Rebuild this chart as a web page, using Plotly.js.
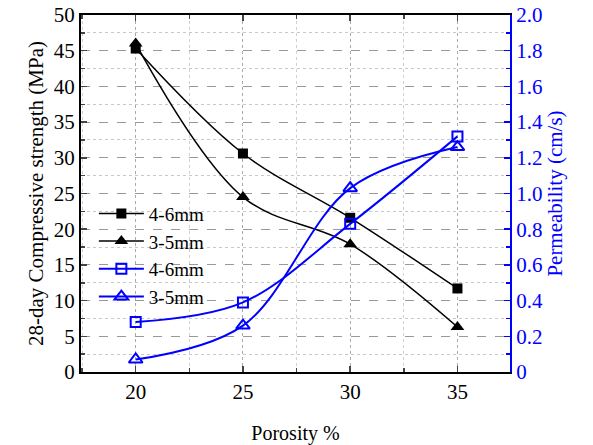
<!DOCTYPE html>
<html><head><meta charset="utf-8">
<script src="https://cdn.plot.ly/plotly-3.0.1.min.js"></script>
<style>body{margin:0;padding:0;}#chart{width:593px;height:445px;}</style>
</head><body><div id="chart"></div>
<script>
const porosity = [20, 25, 30, 35];
const strength46 = [45.3, 30.6, 21.6, 11.7];
const strength35 = [46.0, 24.5, 17.9, 6.3];
const perm46 = [0.28, 0.39, 0.83, 1.32];
const perm35 = [0.07, 0.26, 1.03, 1.26];
const seriesNames = ['4-6mm', '3-5mm', '4-6mm', '3-5mm'];
const permTickVals = [0, 0.2, 0.4, 0.6, 0.8, 1.0, 1.2, 1.4, 1.6, 1.8, 2.0];
const permTickText = ['0', '0.2', '0.4', '0.6', '0.8', '1.0', '1.2', '1.4', '1.6', '1.8', '2.0'];

const font = '"Liberation Serif", "Times New Roman", serif';
const traces = [
  {x: porosity, y: strength46, name: seriesNames[0], mode: 'lines+markers', line: {color: 'black', width: 1.5, shape: 'spline', smoothing: 1}, marker: {symbol: 'square', size: 10, color: 'black'}},
  {x: porosity, y: strength35, name: seriesNames[1], mode: 'lines+markers', line: {color: 'black', width: 1.5, shape: 'spline', smoothing: 1}, marker: {symbol: 'triangle-up', size: 12, color: 'black'}},
  {x: porosity, y: perm46, name: seriesNames[2], yaxis: 'y2', mode: 'lines+markers', line: {color: '#0000ff', width: 2, shape: 'spline', smoothing: 1}, marker: {symbol: 'square-open', size: 10, color: '#0000ff', line: {width: 2}}},
  {x: porosity, y: perm35, name: seriesNames[3], yaxis: 'y2', mode: 'lines+markers', line: {color: '#0000ff', width: 2, shape: 'spline', smoothing: 1}, marker: {symbol: 'triangle-up-open', size: 12, color: '#0000ff', line: {width: 2}}}
];

const layout = {
  width: 593, height: 445,
  margin: {l: 81, r: 83, t: 15, b: 73},
  paper_bgcolor: 'white', plot_bgcolor: 'white',
  font: {family: font, size: 21, color: 'black'},
  showlegend: true,
  legend: {x: 0.03, y: 0.497, xanchor: 'left', yanchor: 'top', bgcolor: 'rgba(0,0,0,0)', font: {family: font, size: 19}, tracegroupgap: 0, itemwidth: 45},
  xaxis: {
    range: [17.45, 37.45], tickvals: porosity, ticks: 'inside', ticklen: 6, tickwidth: 1.5,
    showline: true, linecolor: 'black', linewidth: 2, mirror: 'ticks', zeroline: false,
    showgrid: true, gridcolor: '#aaa', griddash: 'dot', gridwidth: 1,
    minor: {dtick: 2.5, ticks: 'inside', ticklen: 4, showgrid: true, gridcolor: '#d0d0d0', griddash: 'dot'},
    title: {text: 'Porosity %', font: {family: font, size: 20}, standoff: 24},
    tickfont: {family: font, size: 21}
  },
  yaxis: {
    range: [0, 50], dtick: 5, ticks: 'inside', ticklen: 6, tickwidth: 1.5,
    showline: true, linecolor: 'black', linewidth: 2, zeroline: false,
    showgrid: true, gridcolor: '#999', griddash: 'dash', gridwidth: 1,
    minor: {dtick: 2.5, ticks: 'inside', ticklen: 4, showgrid: true, gridcolor: '#c8c8c8', griddash: 'dot'},
    title: {text: '28-day Compressive strength (MPa)', font: {family: font, size: 21}, standoff: 4},
    tickfont: {family: font, size: 21}
  },
  yaxis2: {
    overlaying: 'y', side: 'right', range: [0, 2],
    tickvals: permTickVals, ticktext: permTickText,
    ticks: 'inside', ticklen: 6, tickwidth: 1.5, tickcolor: '#0000ff',
    showline: true, linecolor: '#0000ff', linewidth: 2, zeroline: false, showgrid: false,
    minor: {dtick: 0.1, ticks: 'inside', ticklen: 4, tickcolor: '#0000ff'},
    title: {text: 'Permeability (cm/s)', font: {family: font, size: 21, color: '#0000ff'}, standoff: 4},
    tickfont: {family: font, size: 21, color: '#0000ff'}
  }
};
Plotly.newPlot('chart', traces, layout, {staticPlot: true});
</script></body></html>
